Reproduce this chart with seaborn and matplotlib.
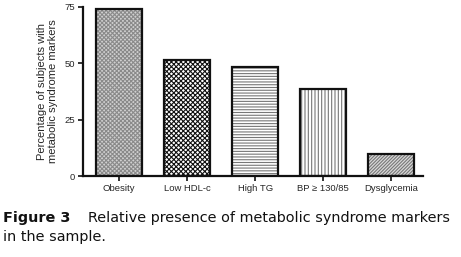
import matplotlib
matplotlib.use("Agg")
import matplotlib.pyplot as plt
import seaborn as sns
import pandas as pd

# values
markers = ["Obesity", "Low HDL-c", "High TG", "BP \u2265 130/85", "Dysglycemia"]
percent = [74.0, 51.5, 48.5, 38.5, 9.8]

hatches = ["xxxxxxxx", "xxxxxxx", "------", "|||||", "//////////"]
hatch_colors = ["#8a8a8a", "#111111", "#777777", "#777777", "#777777"]
face_colors = ["#d0d0d0", "white", "white", "white", "#d8d8d8"]

sns.set_theme(style="white")
plt.rcParams["font.family"] = ["Liberation Sans", "DejaVu Sans"]
plt.rcParams["hatch.linewidth"] = 0.8

df = pd.DataFrame({"marker": markers, "percent": percent})

fig = plt.figure(figsize=(4.61, 2.57), dpi=100)
ax = fig.add_axes([0.18, 0.315, 0.738, 0.658])

# hatched fills
sns.barplot(data=df, x="marker", y="percent", color="white", width=0.68,
            linewidth=0, ax=ax)
for bar, h, hc, fc in zip(ax.patches, hatches, hatch_colors, face_colors):
    bar.set_hatch(h)
    bar.set_edgecolor(hc)
    bar.set_facecolor(fc)
    bar.set_linewidth(0)

# black outlines on top
sns.barplot(data=df, x="marker", y="percent", fill=False, width=0.68,
            edgecolor="#111111", linewidth=1.6, ax=ax)

ax.set_xlim(-0.53, 4.47)
ax.set_ylim(0, 75)
ax.set_yticks([0, 25, 50, 75])
ax.set_xlabel("")
ax.set_ylabel("Percentage of subjects with\nmetabolic syndrome markers",
              fontsize=8, labelpad=5, linespacing=1.05)
sns.despine(ax=ax)
for side in ["left", "bottom"]:
    ax.spines[side].set_color("#111111")
    ax.spines[side].set_linewidth(1.6)
ax.tick_params(axis="both", direction="out", length=3.5, width=1.2,
               color="#111111", labelsize=6.8, pad=2, left=True, bottom=True)

fig.text(3 / 461, 1 - 218 / 257, "Figure 3", fontsize=10.4, fontweight="bold",
         family="DejaVu Sans", va="center", color="#111111")
fig.text(88 / 461, 1 - 218 / 257, "Relative presence of metabolic syndrome markers",
         fontsize=10.4, family="DejaVu Sans", va="center", color="#111111")
fig.text(3 / 461, 1 - 237 / 257, "in the sample.", fontsize=10.4,
         family="DejaVu Sans", va="center", color="#111111")

fig.savefig("out.png", dpi=100)
